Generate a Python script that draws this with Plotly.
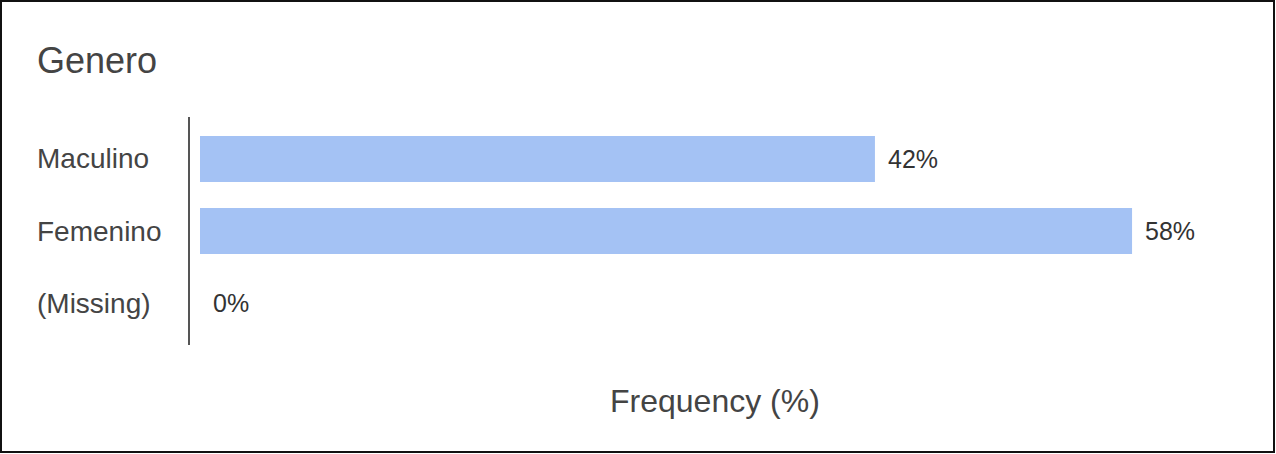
import plotly.graph_objects as go

# Survey answer: gender breakdown
categories = ["Maculino", "Femenino", "(Missing)"]
values = [42, 58, 0]
value_labels = ["42%", "58%", "0%"]

title_text = "Genero"
axis_title = "Frequency (%)"

W, H = 1276, 454
ML, MR, MT, MB = 190, 35, 117, 109
PW = W - ML - MR
PH = H - MT - MB

BAR_COLOR = "#a4c2f4"
TEXT = "#333333"
FONT = "Liberation Sans, Arial, sans-serif"

# horizontal scale: px per percent, with bars starting a little right of the axis line
scale = 16.07
x_lo = -10 / scale
x_hi = (PW - 10) / scale


def px_x(px):
    return (px - ML) / PW


def px_y(py):
    return (H - MB - py) / PH


ypos = list(range(len(categories)))

fig = go.Figure(
    go.Bar(
        x=values,
        y=ypos,
        orientation="h",
        width=0.64,
        marker=dict(color=BAR_COLOR, line=dict(width=0)),
        hoverinfo="skip",
    )
)

annotations = []
# category labels, left aligned
for yi, name in zip(ypos, categories):
    annotations.append(dict(
        text=name, xref="paper", x=px_x(35), xanchor="left",
        yref="y", y=yi, yanchor="middle", showarrow=False,
        font=dict(family=FONT, size=28, color="#444444"),
    ))
# value labels beside bar ends
for yi, v, lab in zip(ypos, values, value_labels):
    annotations.append(dict(
        text=lab, xref="x", x=v, xanchor="left", xshift=11,
        yref="y", y=yi, yanchor="middle", showarrow=False,
        font=dict(family=FONT, size=25, color=TEXT),
    ))
# axis title
annotations.append(dict(
    text=axis_title, xref="paper", x=px_x(715), xanchor="center",
    yref="paper", y=px_y(401), yanchor="middle", showarrow=False,
    font=dict(family=FONT, size=32, color="#444444"),
))
# chart title
annotations.append(dict(
    text=title_text, xref="paper", x=px_x(35), xanchor="left",
    yref="paper", y=px_y(60), yanchor="middle", showarrow=False,
    font=dict(family=FONT, size=36, color="#444444"),
))

shapes = [
    # outer frame
    dict(type="rect", xref="paper", yref="paper",
         x0=px_x(1), x1=px_x(1274), y0=px_y(1), y1=px_y(452),
         line=dict(color="#111111", width=2), fillcolor="rgba(0,0,0,0)", layer="above"),
]

fig.update_layout(
    width=W, height=H,
    margin=dict(l=ML, r=MR, t=MT, b=MB, pad=0),
    paper_bgcolor="white", plot_bgcolor="white",
    showlegend=False,
    bargap=0.36,
    xaxis=dict(range=[x_lo, x_hi], showgrid=False, zeroline=False,
               showticklabels=False, ticks="", showline=False, fixedrange=True),
    yaxis=dict(range=[2.583, -0.583], showgrid=False, zeroline=False,
               showticklabels=False, ticks="", showline=True,
               linecolor="#555555", linewidth=2, fixedrange=True),
    annotations=annotations,
    shapes=shapes,
)

fig.write_html("out.html")
